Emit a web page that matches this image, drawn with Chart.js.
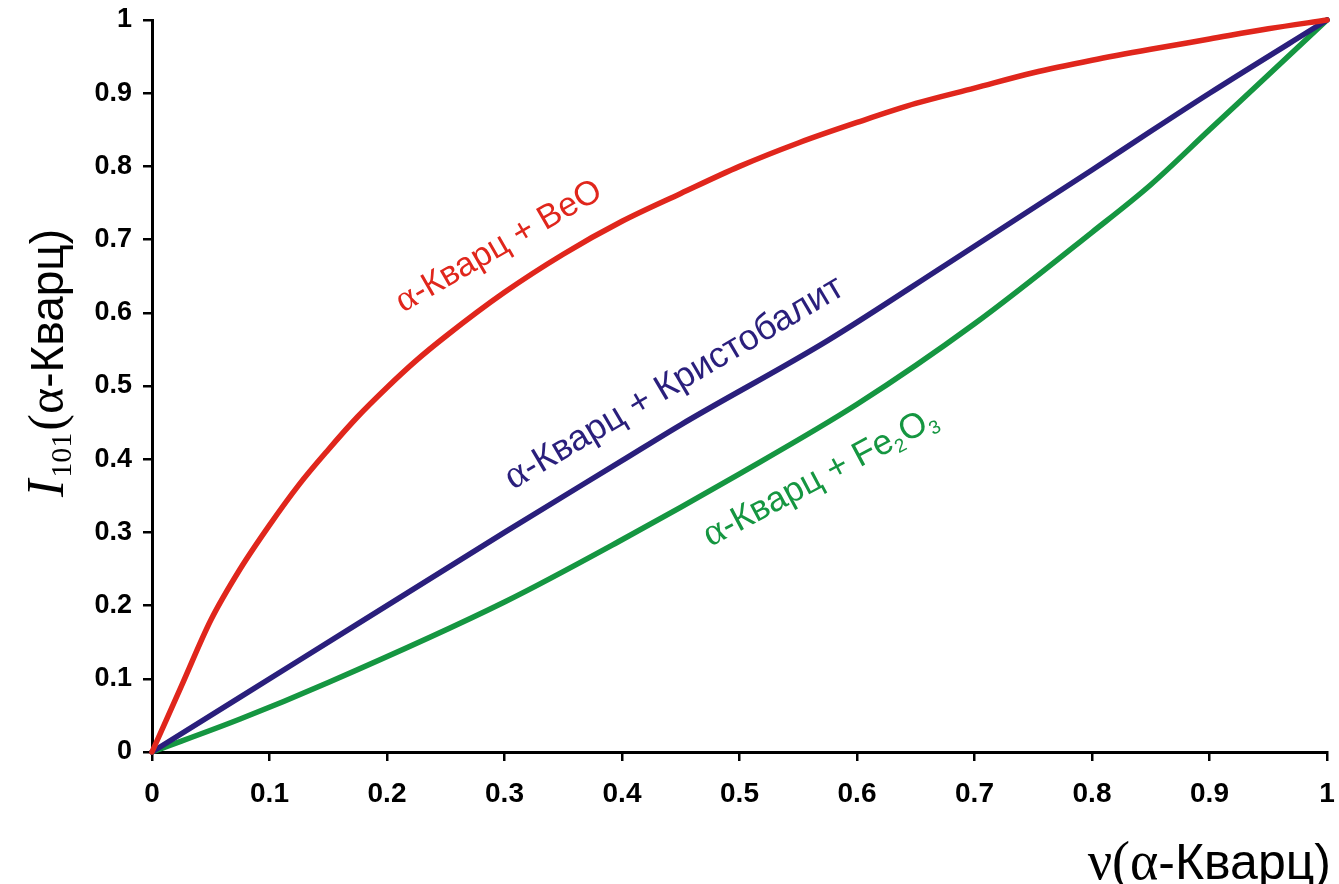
<!DOCTYPE html>
<html>
<head>
<meta charset="utf-8">
<script src="https://cdn.jsdelivr.net/npm/chart.js@4.4.0/dist/chart.umd.min.js"></script>
<style>
  html, body { margin: 0; padding: 0; background: #fff; }
  #wrap { width: 1339px; height: 884px; }
</style>
</head>
<body>
<div id="wrap"><canvas id="grafico"></canvas></div>
<script>
// dados
const xBeO = [0, 0.025, 0.05, 0.075, 0.1, 0.125, 0.15, 0.175, 0.2, 0.225, 0.25, 0.3, 0.35, 0.4, 0.45, 0.5, 0.55, 0.6, 0.65, 0.7, 0.75, 0.8, 0.85, 0.9, 0.95, 1]
const yBeO = [0, 0.09, 0.18, 0.25, 0.31, 0.365, 0.413, 0.458, 0.498, 0.535, 0.568, 0.628, 0.68, 0.725, 0.763, 0.8, 0.832, 0.86, 0.886, 0.907, 0.928, 0.945, 0.96, 0.974, 0.988, 1]

const xKrist = [0, 0.075, 0.175, 0.3, 0.4, 0.45, 0.575, 0.675, 0.8, 0.85, 0.9, 1]
const yKrist = [0, 0.075, 0.175, 0.3, 0.398, 0.447, 0.562, 0.665, 0.795, 0.848, 0.9, 1]

const xFe = [0, 0.075, 0.15, 0.3, 0.4, 0.5, 0.6, 0.7, 0.8, 0.85, 0.9, 0.95, 1]
const yFe = [0, 0.045, 0.095, 0.205, 0.29, 0.38, 0.475, 0.585, 0.71, 0.775, 0.85, 0.925, 1]

const yTicks = [0, 0.1, 0.2, 0.3, 0.4, 0.5, 0.6, 0.7, 0.8, 0.9, 1]

const vermelho = '#e0261c'
const azul = '#2a1f7c'
const verde = '#159641'

const pontos = (xs, ys) => xs.map((x, i) => ({ x, y: ys[i] }))

const fonte = '"Liberation Sans", Arial, sans-serif'
const serifa = '"Liberation Serif", "Times New Roman", serif'
Chart.defaults.font.family = fonte
Chart.defaults.color = '#000'

// rótulos das curvas (posição inicial em coordenadas de dados, ângulo em graus)
// partes: [texto, tipo] tipo 0 = normal, 1 = índice, 2 = serifa
const rotulos = [
  { partes: [['α', 2], ['-Кварц + BeO', 0]], x: 0.2136, y: 0.60, ang: -30, cor: vermelho, tam: 34 },
  { partes: [['α', 2], ['-Кварц + Кристобалит', 0]], x: 0.307, y: 0.358, ang: -30.5, cor: azul, tam: 36 },
  { partes: [['α', 2], ['-Кварц + Fe', 0], ['2', 1], ['O', 0], ['3', 1]], x: 0.475, y: 0.28, ang: -28, cor: verde, tam: 35 }
]

function escreve(c, partes, tam) {
  let px = 0
  partes.forEach(([t, tipo]) => {
    if (tipo === 1) c.font = Math.round(tam * 0.55) + 'px ' + fonte
    else if (tipo === 2) c.font = Math.round(tam * 1.1) + 'px ' + serifa
    else c.font = tam + 'px ' + fonte
    c.fillText(t, px, tipo === 1 ? tam * 0.17 : 0)
    px += c.measureText(t).width + (tipo === 1 ? 1 : 0)
  })
}

const extras = {
  id: 'extras',
  afterDraw(chart) {
    const c = chart.ctx
    const sx = chart.scales.x, sy = chart.scales.y
    rotulos.forEach(r => {
      c.save()
      c.translate(sx.getPixelForValue(r.x), sy.getPixelForValue(r.y))
      c.rotate(r.ang * Math.PI / 180)
      c.fillStyle = r.cor
      c.textBaseline = 'alphabetic'
      escreve(c, r.partes, r.tam)
      c.restore()
    })

    // título do eixo y
    c.save()
    c.translate(63, 497)
    c.rotate(-Math.PI / 2)
    c.fillStyle = '#000'
    c.textBaseline = 'alphabetic'
    c.font = 'italic 52px ' + serifa
    c.fillText('I', 0, 0)
    let w = c.measureText('I').width
    c.font = '30px ' + serifa
    c.fillText('101', w + 2, 8)
    w += c.measureText('101').width + 4
    c.font = '50px ' + serifa
    c.fillText('(α', w, 0)
    w += c.measureText('(α').width
    c.font = '46px ' + fonte
    c.fillText('-Кварц)', w, 0)
    c.restore()

    // título do eixo x
    c.save()
    c.fillStyle = '#000'
    c.textBaseline = 'alphabetic'
    c.font = '50px ' + fonte
    const w2 = c.measureText('-Кварц)').width
    c.font = '54px ' + serifa
    const w1 = c.measureText('ν(α').width
    const x0 = 1331 - w1 - w2
    c.fillText('ν(α', x0, 879)
    c.font = '50px ' + fonte
    c.fillText('-Кварц)', x0 + w1, 879)
    c.restore()
  }
}

const config = {
  type: 'scatter',
  data: {
    datasets: [
      { label: 'α-Кварц + BeO', data: pontos(xBeO, yBeO), borderColor: vermelho },
      { label: 'α-Кварц + Кристобалит', data: pontos(xKrist, yKrist), borderColor: azul },
      { label: 'α-Кварц + Fe2O3', data: pontos(xFe, yFe), borderColor: verde }
    ].map(d => Object.assign(d, {
      showLine: true,
      borderWidth: 5.5,
      pointRadius: 0,
      cubicInterpolationMode: 'monotone',
      clip: false,
      borderCapStyle: 'round',
      borderJoinStyle: 'round'
    }))
  },
  options: {
    responsive: true,
    maintainAspectRatio: false,
    animation: false,
    layout: { padding: { top: 20, right: 12, left: 0, bottom: 0 } },
    plugins: { legend: { display: false }, tooltip: { enabled: false } },
    scales: {
      x: {
        type: 'linear',
        min: 0, max: 1,
        afterFit: s => { s.height = 884 - 752; s.paddingLeft = 0; s.paddingRight = 0 },
        afterBuildTicks: s => { s.ticks = yTicks.map(v => ({ value: v })) },
        border: { color: '#000', width: 3 },
        grid: { drawOnChartArea: false, color: '#000', tickLength: 9, lineWidth: 2.5 },
        ticks: {
          font: { size: 28, weight: 'bold' },
          padding: 16,
          maxRotation: 0,
          callback: v => String(Math.round(v * 10) / 10)
        }
      },
      y: {
        type: 'linear',
        min: 0, max: 1,
        afterFit: s => { s.width = 152; s.paddingTop = 0; s.paddingBottom = 0 },
        afterBuildTicks: s => { s.ticks = yTicks.map(v => ({ value: v })) },
        border: { color: '#000', width: 3 },
        grid: { drawOnChartArea: false, color: '#000', tickLength: 9, lineWidth: 2.5 },
        ticks: {
          font: { size: 27, weight: 'bold' },
          padding: 11,
          callback: v => String(Math.round(v * 10) / 10)
        }
      }
    }
  },
  plugins: [extras]
}

const grafico = new Chart(document.getElementById('grafico'), config)
</script>
</body>
</html>
